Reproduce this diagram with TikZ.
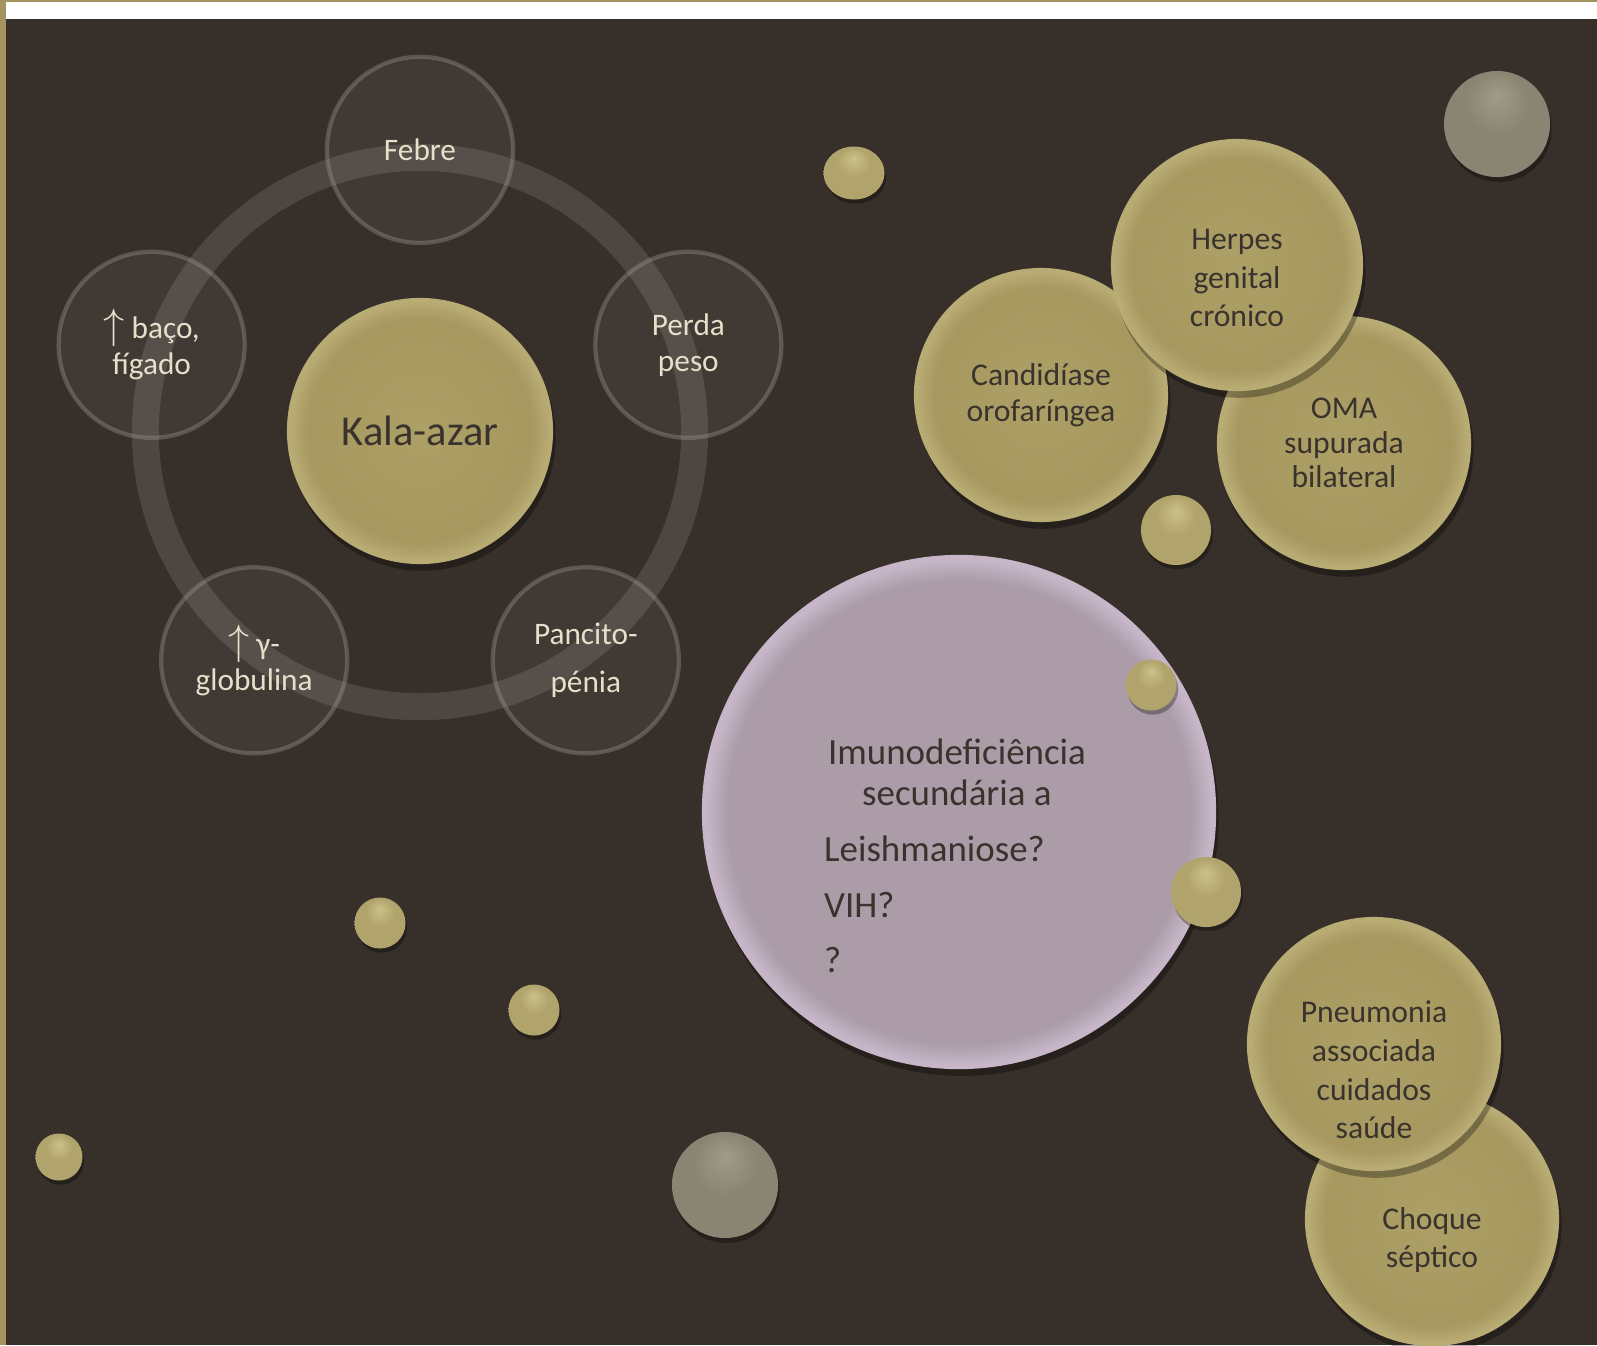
\documentclass[tikz,border=0pt]{standalone}
\usepackage{fontspec}
\setmainfont{Carlito}
\usetikzlibrary{shadows,shapes.geometric,calc}

\definecolor{bgdark}{HTML}{372F2A}
\definecolor{goldbar}{HTML}{A3935E}
\definecolor{ringcol}{HTML}{4E4640}
\definecolor{glassrim}{HTML}{A8A094}
\definecolor{txtdark}{HTML}{3A332D}
\definecolor{txtlight}{HTML}{E6DFCA}
\definecolor{goldhi}{HTML}{ADA067}
\definecolor{goldmid}{HTML}{A6985F}
\definecolor{goldedge}{HTML}{B8AB73}
\definecolor{ballhi}{HTML}{CDC18A}
\definecolor{ballmid}{HTML}{B0A36B}
\definecolor{balllow}{HTML}{8C7F4D}
\definecolor{greyhi}{HTML}{A19B88}
\definecolor{greymid}{HTML}{8A8472}
\definecolor{greylow}{HTML}{767062}
\definecolor{lilac}{HTML}{AB9CA8}
\definecolor{lilachi}{HTML}{C6B6C8}

\pgfdeclareradialshading{goldface}{\pgfpointorigin}{color(0bp)=(goldhi); color(21bp)=(goldmid); color(24.4bp)=(goldedge); color(50bp)=(goldedge)}
\pgfdeclareradialshading{goldball}{\pgfpoint{0bp}{14bp}}{color(0bp)=(ballhi); color(14bp)=(ballmid); color(30bp)=(ballmid); color(38bp)=(balllow); color(50bp)=(balllow)}
\pgfdeclareradialshading{greyball}{\pgfpoint{0bp}{14bp}}{color(0bp)=(greyhi); color(15bp)=(greymid); color(31bp)=(greymid); color(38bp)=(greylow); color(50bp)=(greylow)}
\pgfdeclareradialshading{lilacface}{\pgfpointorigin}{color(0bp)=(lilac); color(22.5bp)=(lilac); color(24.6bp)=(lilachi); color(50bp)=(lilachi)}

\newcommand{\upmark}{{\fontsize{11.5}{10}\selectfont$\uparrow$}}

\begin{document}
\begin{tikzpicture}[x=0.01cm,y=-0.01cm,
  bubble/.style={circle, inner sep=0pt, outer sep=0pt, align=center},
  goldbubble/.style={bubble, shading=goldface, minimum size=2.54cm,
    drop shadow={shadow xshift=0.15ex, shadow yshift=-0.4ex, fill=black, opacity=0.3},
    text=txtdark, font=\fontsize{9}{11}\selectfont},
  goldtext/.style={text=txtdark, align=center, font=\fontsize{9}{11}\selectfont},
  glass/.style={bubble, fill=white, fill opacity=0.05, draw=glassrim, draw opacity=0.35,
    line width=1.2pt, text opacity=1, text=txtlight, minimum size=1.86cm,
    font=\fontsize{8.9}{10.2}\selectfont},
  ball/.style={bubble, shading=goldball,
    drop shadow={shadow xshift=0.1ex, shadow yshift=-0.25ex, fill=black, opacity=0.3}},
  greyball/.style={bubble, shading=greyball, minimum size=1.06cm,
    drop shadow={shadow xshift=0.1ex, shadow yshift=-0.3ex, fill=black, opacity=0.3}},
]

  % Background

  \useasboundingbox (0,0) rectangle (1597,1345);
  \fill[goldbar] (0,0) rectangle (1597,1345);
  \fill[white] (6,2) rectangle (1597,19);
  \fill[bgdark] (6,19) rectangle (1597,1345);

  % Kala-azar cycle

  \node[bubble, draw=ringcol, line width=2.7mm, minimum size=5.49cm] (cycle) at (420,432) {};
  \node[goldbubble, minimum size=2.66cm, font=\fontsize{12.1}{14}\selectfont] (kala) at (420,431) {Kala-azar};

  \node[glass] (febre) at ($(cycle.center)+(90:2.82cm)$) {Febre};
  \node[glass] (baco)  at ($(cycle.center)+(162:2.82cm)$) {\upmark{} baço,\\fígado};
  \node[glass] (peso)  at ($(cycle.center)+(18:2.82cm)$) {Perda\\peso};
  \node[glass] (gama)  at ($(cycle.center)+(234:2.82cm)$) {\upmark{} γ-\\globulina};
  \node[glass] (panci) at ($(cycle.center)+(306:2.82cm)$) {Pancito-\\[3.6pt]pénia};

  % Infections, upper right

  \node[goldbubble, font=\fontsize{9}{10.1}\selectfont] (candida) at (1041,395) {Candidíase\\orofaríngea};
  \node[goldbubble, font=\fontsize{9}{9.9}\selectfont] (oma) at (1344,443) {OMA\\supurada\\bilateral};
  \node[goldbubble, minimum size=2.52cm,
    label={[goldtext, yshift=-0.13cm]center:{Herpes\\genital\\crónico}}] (herpes) at (1237,265) {};
  \node[ball, minimum size=0.70cm] (ballA) at (1176,530) {};

  % Immunodeficiency

  \node[bubble, shading=lilacface, minimum size=5.14cm,
    drop shadow={shadow xshift=0.15ex, shadow yshift=-0.4ex, fill=black, opacity=0.3}] (imuno) at (959,812) {};
  \node[align=left, text=txtdark, font=\fontsize{10.5}{11.6}\selectfont] (imunotxt) at (955,856)
    {\hspace*{0.04cm}Imunodeficiência\\\hspace*{0.38cm}secundária a\\[4.3pt]Leishmaniose?\\[4.3pt]VIH?\\[4.3pt]?};
  \node[ball, minimum size=0.51cm] (ballB) at (1151,685) {};
  \node[ball, minimum size=0.70cm] (ballC) at (1206,892) {};

  % Infections, lower right

  \node[goldbubble, label={[goldtext, yshift=-0.21cm]center:{Choque\\séptico}}] (choque) at (1432,1219) {};
  \node[goldbubble, label={[goldtext, yshift=-0.26cm]center:{Pneumonia\\associada\\cuidados\\saúde}}] (pneu) at (1374,1044) {};

  % Loose balls

  \node[ball, ellipse, minimum width=0.61cm, minimum height=0.53cm] (ballD) at (854,173) {};
  \node[ball, minimum size=0.51cm] (ballE) at (380,923) {};
  \node[ball, minimum size=0.51cm] (ballF) at (534,1010) {};
  \node[ball, minimum size=0.47cm] (ballG) at (59,1157) {};
  \node[greyball] (greyA) at (1497,124) {};
  \node[greyball] (greyB) at (725,1185) {};

\end{tikzpicture}
\end{document}
